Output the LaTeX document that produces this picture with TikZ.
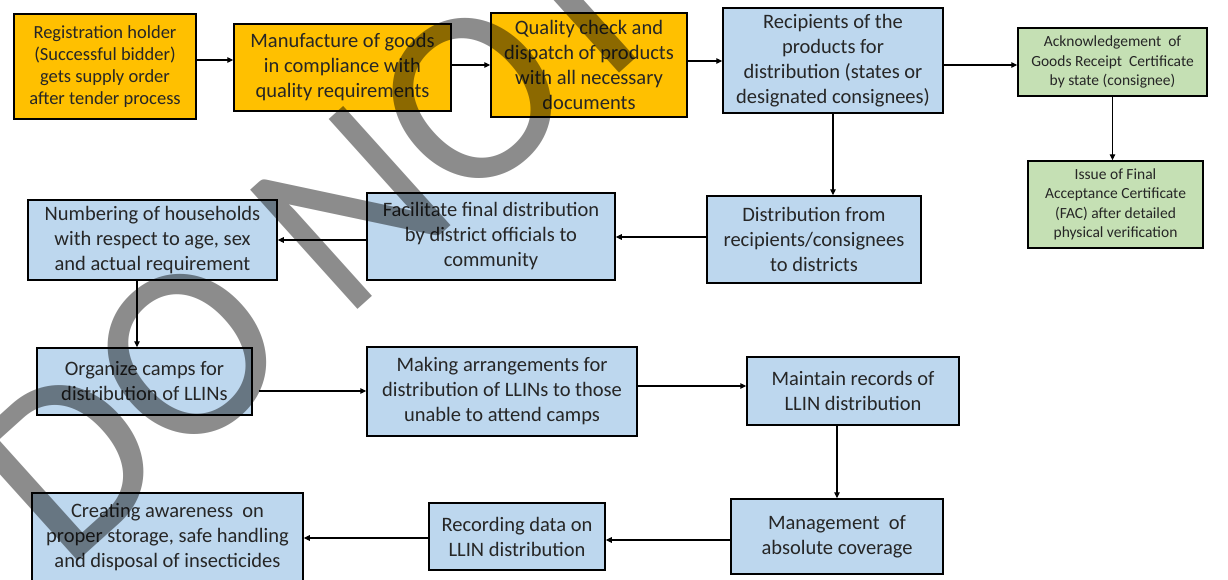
\documentclass[tikz,border=0pt]{standalone}
\usepackage{fontspec}
\setmainfont{Carlito}
\usetikzlibrary{arrows.meta}
\definecolor{yel}{HTML}{FFC000}
\definecolor{blu}{HTML}{BDD7EE}
\definecolor{grn}{HTML}{C5E0B4}
\definecolor{txt}{HTML}{262626}
\tikzset{
  box/.style={draw=black, line width=1.5pt, align=center, inner sep=0pt, text=txt,
    font=\fontsize{20.5}{25}\selectfont},
  ybox/.style={box, fill=yel},
  bbox/.style={box, fill=blu},
  gbox/.style={box, fill=grn, font=\fontsize{15.5}{19.5}\selectfont},
  arr/.style={draw=black, line width=1.2pt, -{Triangle[length=6pt,width=5.5pt]}},
  wmark/.style={rotate=42, inner sep=0pt, text=black, opacity=0.45,
    font=\fontsize{250}{250}\selectfont},
}
\begin{document}
\begin{tikzpicture}[x=1pt,y=-1pt]
\useasboundingbox (0,0) rectangle (1228,579);
\clip (0,0) rectangle (1228,579);
\fill[white] (0,0) rectangle (1228,579);

% top row
\node[ybox, minimum width=182pt, minimum height=105pt, font=\fontsize{18.5}{22}\selectfont] (reg) at (105,66.5)
  {Registration holder\\(Successful bidder)\\gets supply order\\after tender process};
\node[ybox, minimum width=217pt, minimum height=87pt] (manu) at (342.5,67.5)
  {Manufacture of goods\\in compliance with\\quality requirements};
\node[ybox, minimum width=196pt, minimum height=104pt] (qual) at (589,65)
  {Quality check and\\dispatch of products\\with all necessary\\documents};
\node[bbox, minimum width=220pt, minimum height=105pt] (recip) at (833,60.5)
  {Recipients of the\\products for\\distribution (states or\\designated consignees)};
\node[gbox, minimum width=189pt, minimum height=68pt] (ack) at (1112.5,62)
  {Acknowledgement\ \ of\\Goods Receipt\ \ Certificate\\by state (consignee)};
\node[gbox, minimum width=175pt, minimum height=87pt] (fac) at (1115.5,204.5)
  {Issue of Final\\Acceptance Certificate\\(FAC) after detailed\\physical verification};

% second row
\node[bbox, minimum width=214pt, minimum height=87pt] (dist) at (814,239.5)
  {Distribution from\\recipients/consignees\\to districts};
\node[bbox, minimum width=248pt, minimum height=87pt] (facil) at (491,236.5)
  {Facilitate final distribution\\by district officials to\\community};
\node[bbox, minimum width=249pt, minimum height=80pt] (numb) at (152.5,240)
  {Numbering of households\\with respect to age, sex\\and actual requirement};

% third row
\node[bbox, minimum width=215pt, minimum height=67pt] (org) at (144.5,381.5)
  {Organize camps for\\distribution of LLINs};
\node[bbox, minimum width=270pt, minimum height=89pt] (make) at (502,391.5)
  {Making arrangements for\\distribution of LLINs to those\\unable to attend camps};
\node[bbox, minimum width=212pt, minimum height=68pt] (maint) at (853,391)
  {Maintain records of\\LLIN distribution};

% bottom row
\node[bbox, minimum width=212pt, minimum height=75pt] (mgmt) at (837,536.5)
  {Management\ \ of\\absolute coverage};
\node[bbox, minimum width=176pt, minimum height=67pt] (rec) at (517,536.5)
  {Recording data on\\LLIN distribution};
\node[bbox, minimum width=271pt, minimum height=89pt] (aware) at (167.5,537.5)
  {Creating awareness\ \ on\\proper storage, safe handling\\and disposal of insecticides};

% levels for connectors
\coordinate (ya) at (0,60);
\coordinate (yb) at (0,65);
\coordinate (yc) at (0,61);
\coordinate (yd) at (0,237);
\coordinate (ye) at (0,240);
\coordinate (yf) at (0,391);
\coordinate (yg) at (0,386);
\coordinate (yh) at (0,540);
\coordinate (yi) at (0,538);
\coordinate (xa) at (137,0);

\draw[arr] (reg.east |- ya) -- (manu.west |- ya);
\draw[arr] (manu.east |- yb) -- (qual.west |- yb);
\draw[arr] (qual.east |- yc) -- (recip.west |- yc);
\draw[arr] (recip.east |- yb) -- (ack.west |- yb);
\draw[arr] (ack.south) -- (ack.south |- fac.north);
\draw[arr] (recip.south) -- (recip.south |- dist.north);
\draw[arr] (dist.west |- yd) -- (facil.east |- yd);
\draw[arr] (facil.west |- ye) -- (numb.east |- ye);
\draw[arr] (numb.south -| xa) -- (org.north -| xa);
\draw[arr] ([xshift=6pt]org.east |- yf) -- (make.west |- yf);
\draw[arr] (make.east |- yg) -- (maint.west |- yg);
\draw[arr] (mgmt.north |- maint.south) -- (mgmt.north);
\draw[arr] (mgmt.west |- yh) -- (rec.east |- yh);
\draw[arr] (rec.west |- yi) -- (aware.east |- yi);

% watermark
\node[wmark, anchor=base west] (wm) at (65,573) {DO NOT};
\end{tikzpicture}
\end{document}
